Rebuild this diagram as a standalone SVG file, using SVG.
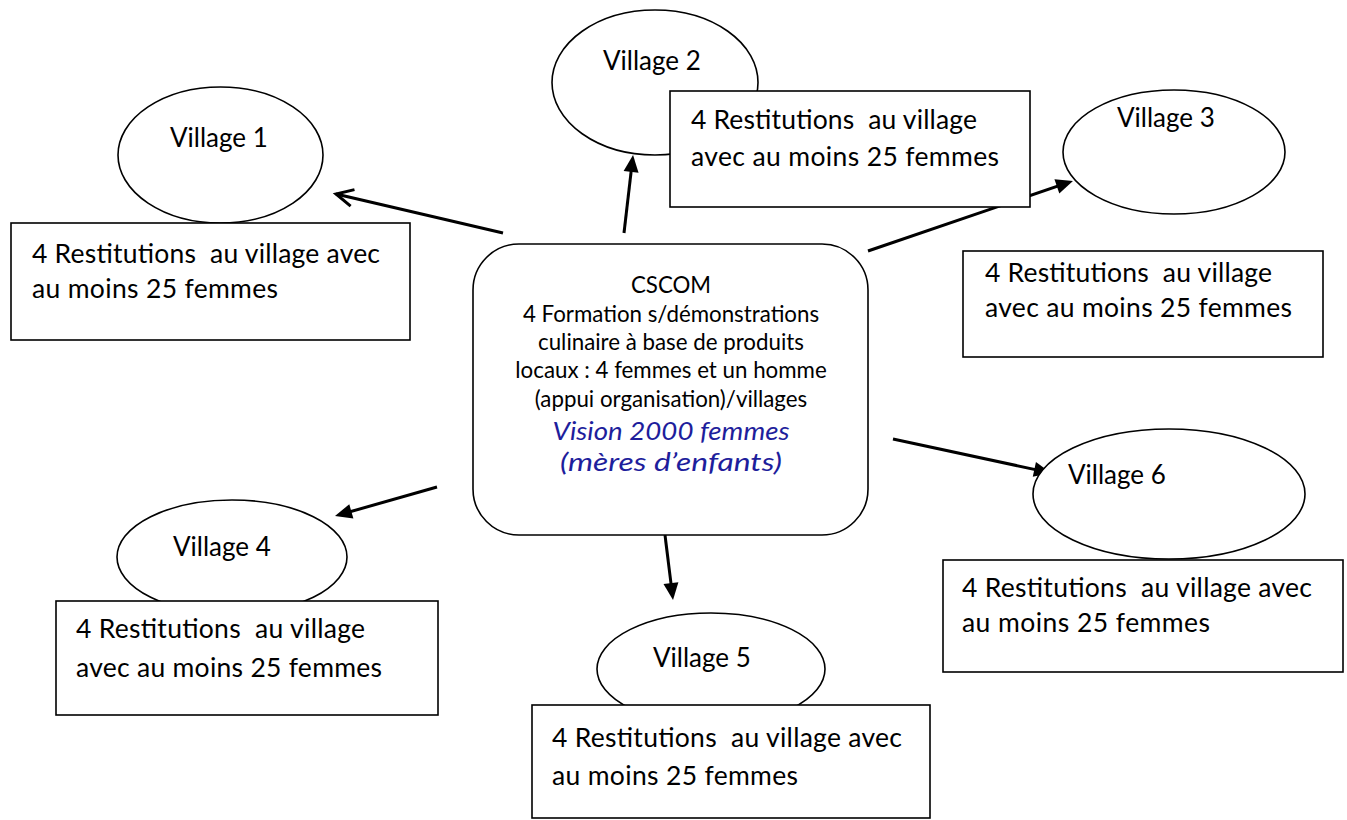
<svg xmlns="http://www.w3.org/2000/svg" width="1347" height="820" viewBox="0 0 1347 820">
<style>
.sh{fill:#fff;stroke:#000;stroke-width:1.6}
.t{font-family:Lato,"Liberation Sans",sans-serif;font-size:26.5px;fill:#000;white-space:pre}
.v{font-family:Lato,"Liberation Sans",sans-serif;font-size:26px;fill:#000}
.c{font-family:Lato,"Liberation Sans",sans-serif;font-size:22.3px;fill:#000;text-anchor:middle}
.b{font-family:Lato,"Liberation Sans",sans-serif;font-size:25.5px;font-style:italic;fill:#1e1e9c;text-anchor:middle}
.a{stroke:#000;stroke-width:3;fill:none}
</style>
<defs>
<marker id="tri" markerUnits="userSpaceOnUse" orient="auto" markerWidth="20" markerHeight="20" refX="0" refY="0" overflow="visible">
<path d="M10,0 L-7,-7.5 L-7,7.5 z" fill="#000"/>
</marker>
<marker id="vee" markerUnits="userSpaceOnUse" orient="auto" markerWidth="20" markerHeight="20" refX="0" refY="0" overflow="visible">
<path d="M-17,-8.5 L0,0 L-17,8.5" fill="none" stroke="#000" stroke-width="3"/>
</marker>
</defs>
<g id="connectors">
<line class="a" x1="503" y1="233" x2="336" y2="194" marker-end="url(#vee)"/>
<line class="a" x1="624" y1="233" x2="631.9" y2="164.9" marker-end="url(#tri)"/>
<line class="a" x1="868" y1="251" x2="1063.5" y2="184.2" marker-end="url(#tri)"/>
<line class="a" x1="437" y1="487" x2="344.6" y2="513.3" marker-end="url(#tri)"/>
<line class="a" x1="665" y1="535" x2="671.8" y2="590.1" marker-end="url(#tri)"/>
<line class="a" x1="893" y1="439" x2="1041.2" y2="470.9" marker-end="url(#tri)"/>
</g>
<g id="cscom">
<rect class="sh" x="473" y="244" width="395" height="291" rx="46"/>
<text class="c" x="671" y="293">CSCOM</text>
<text class="c" x="671" y="322">4 Formation s/démonstrations</text>
<text class="c" x="671" y="350">culinaire à base de produits</text>
<text class="c" x="671" y="378">locaux : 4 femmes et un homme</text>
<text class="c" x="671" y="407">(appui organisation)/villages</text>
<text class="b" x="671" y="440" textLength="237" lengthAdjust="spacingAndGlyphs">Vision 2000 femmes</text>
<text class="b" x="671" y="471" textLength="222" lengthAdjust="spacingAndGlyphs">(mères d’enfants)</text>
</g>
<g id="village1">
<ellipse class="sh" cx="220.5" cy="155" rx="102.5" ry="68"/>
<text class="v" x="170" y="147">Village 1</text>
<rect class="sh" x="11" y="223" width="399" height="117"/>
<text class="t" x="32" y="263" textLength="348">4 Restitutions  au village avec</text>
<text class="t" x="32" y="298" textLength="246">au moins 25 femmes</text>
</g>
<g id="village2">
<ellipse class="sh" cx="655" cy="82.5" rx="103" ry="72.5"/>
<text class="v" x="603" y="70">Village 2</text>
<rect class="sh" x="670" y="91" width="360" height="116"/>
<text class="t" x="691" y="129" textLength="286">4 Restitutions  au village</text>
<text class="t" x="691" y="166" textLength="308">avec au moins 25 femmes</text>
</g>
<g id="village3">
<ellipse class="sh" cx="1174" cy="152" rx="111" ry="62"/>
<text class="v" x="1117" y="127">Village 3</text>
<rect class="sh" x="963" y="251" width="360" height="106"/>
<text class="t" x="985" y="282" textLength="287">4 Restitutions  au village</text>
<text class="t" x="985" y="317" textLength="307">avec au moins 25 femmes</text>
</g>
<g id="village4">
<ellipse class="sh" cx="232" cy="557" rx="115" ry="57"/>
<text class="v" x="173" y="556">Village 4</text>
<rect class="sh" x="56" y="601" width="382" height="114"/>
<text class="t" x="76" y="638" textLength="289">4 Restitutions  au village</text>
<text class="t" x="76" y="677" textLength="306">avec au moins 25 femmes</text>
</g>
<g id="village5">
<ellipse class="sh" cx="711" cy="669" rx="114" ry="56"/>
<text class="v" x="653" y="667">Village 5</text>
<rect class="sh" x="532" y="705" width="398" height="113"/>
<text class="t" x="552" y="747" textLength="350">4 Restitutions  au village avec</text>
<text class="t" x="552" y="785" textLength="246">au moins 25 femmes</text>
</g>
<g id="village6">
<ellipse class="sh" cx="1169" cy="494" rx="136" ry="65"/>
<text class="v" x="1068" y="484">Village 6</text>
<rect class="sh" x="943" y="560" width="400" height="112"/>
<text class="t" x="962" y="597" textLength="350">4 Restitutions  au village avec</text>
<text class="t" x="962" y="632" textLength="248">au moins 25 femmes</text>
</g>
</svg>
